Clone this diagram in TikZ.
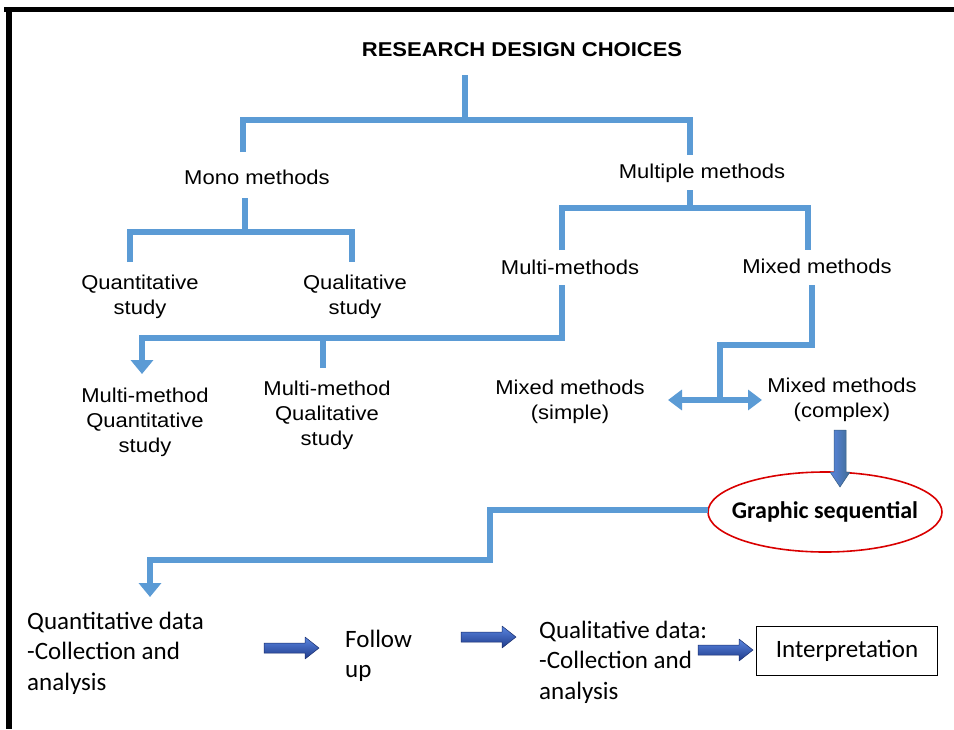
\documentclass[tikz,border=0pt]{standalone}
\usepackage{fontspec}
\setmainfont[FakeStretch=1.1]{Liberation Sans}
\newfontfamily\calfont{Carlito}
\usetikzlibrary{arrows.meta,shapes.geometric,positioning}
\definecolor{lineblue}{HTML}{5B9BD5}
\definecolor{arrdark}{HTML}{1F3A8A}
\definecolor{arrlight}{HTML}{5A86E0}
\begin{document}
\begin{tikzpicture}[x=1pt,y=-1pt,
  bl/.style={draw=lineblue,line width=6pt,line join=miter},
  lbl/.style={font=\fontsize{20}{25}\selectfont,align=center,inner sep=1pt},
  low/.style={font=\calfont\fontsize{25}{30.5}\selectfont,align=left,inner sep=1pt,anchor=west},
  tip/.style={-{Triangle[width=22pt,length=14pt]}},
  blockarr/.pic={\shade[top color=arrlight,bottom color=arrdark,draw=arrdark!80!black,line width=0.5pt,line join=round]
     (-27,-5) -- (14,-5) -- (14,-11) -- (28,0) -- (14,11) -- (14,5) -- (-27,5) -- cycle;},
  downarr/.pic={\shade[left color=arrlight,right color=lineblue!70!black,draw=lineblue!60!black,line width=0.5pt,line join=round]
     (-6,0) -- (6,0) -- (6,42) -- (10,42) -- (0,57) -- (-10,42) -- (-6,42) -- cycle;}
]
\useasboundingbox (0,0) rectangle (954,729);
\fill[white] (0,0) rectangle (954,729);
% frame
\draw[line width=5pt] (4,9.5) -- (954,9.5);
\draw[line width=6pt] (9,7) -- (9,729);

% nodes
\node[font=\bfseries\fontsize{20}{24}\selectfont] (title) at (522,50) {RESEARCH DESIGN CHOICES};
\node[lbl] (mono) at (257,177) {Mono methods};
\node[lbl] (multiple) at (702,173) {Multiple methods};
\node[lbl] (quant) at (140,297) {Quantitative\\study};
\node[lbl] (qual) at (355,297) {Qualitative\\study};
\node[lbl] (multim) at (570,267) {Multi-methods};
\node[lbl] (mixed) at (817,266) {Mixed methods};
\node[lbl] (mmquant) at (145,422) {Multi-method\\Quantitative\\study};
\node[lbl] (mmqual) at (327,415) {Multi-method\\Qualitative\\study};
\node[lbl] (mixsimple) at (570,402) {Mixed methods\\(simple)};
\node[lbl] (mixcomplex) at (842,400) {Mixed methods\\(complex)};
\node[ellipse,draw=red!85!black,line width=1.6pt,minimum width=234pt,minimum height=80pt,inner sep=0pt] (graphic) at (825,512) {};
\node[font=\calfont\bfseries\fontsize{24}{28}\selectfont] (gtext) at (graphic.center) {Graphic sequential};
\node[low] (quantdata) at (26,653) {Quantitative data\\-Collection and\\analysis};
\node[low] (follow) at (344,656) {Follow\\up};
\node[low] (qualdata) at (538,662) {Qualitative data:\\-Collection and\\analysis};
\node[draw,line width=1.4pt,minimum width=181pt,minimum height=49pt,
      font=\calfont\fontsize{25}{28}\selectfont] (interp) at (847,651) {Interpretation};

% junction coordinates
\coordinate (t0) at (465,75);
\coordinate (t1) at (465,120);
\coordinate (tl) at (243,152);
\coordinate (tr) at (690,155);
\coordinate (m0) at (245,198);
\coordinate (m1) at (245,232);
\coordinate (ml) at (130,262);
\coordinate (mr) at (352,262);
\coordinate (p0) at (690,190);
\coordinate (p1) at (690,208);
\coordinate (pl) at (562,250);
\coordinate (pr) at (808,250);
\coordinate (q0) at (562,285);
\coordinate (q1) at (562,338);
\coordinate (qa) at (142,374);
\coordinate (qb) at (323,368);
\coordinate (x0) at (812,285);
\coordinate (x1) at (812,345);
\coordinate (x2) at (720,400);
\coordinate (dl) at (668,400);
\coordinate (dr) at (762,400);
\coordinate (g0) at (708,510);
\coordinate (g1) at (490,510);
\coordinate (g2) at (490,560);
\coordinate (ga) at (150,597);

% connectors
\draw[bl] (t0) -- (t1);
\draw[bl] (tl) |- (t1) -| (tr);
\draw[bl] (m0) -- (m1);
\draw[bl] (ml) |- (m1) -| (mr);
\draw[bl] (p0) -- (p1);
\draw[bl] (pl) |- (p1) -| (pr);
\draw[bl,tip] (q0) |- (qa |- q1) -- (qa);
\draw[bl] (qb) -- (qb |- q1);
\draw[bl] (x0) |- (x2 |- x1) -- (x2);
\draw[draw=lineblue,line width=6pt,{Triangle[width=20pt,length=14pt]}-{Triangle[width=20pt,length=14pt]}] (dl) -- (dr);
\draw[bl,tip] (g0) -- (g1) |- (g2) -| (ga);

% block arrows
\pic at (840,430) {downarr};
\pic at (291,648) {blockarr};
\pic at (488,637) {blockarr};
\pic at (725,650) {blockarr};
\end{tikzpicture}
\end{document}
